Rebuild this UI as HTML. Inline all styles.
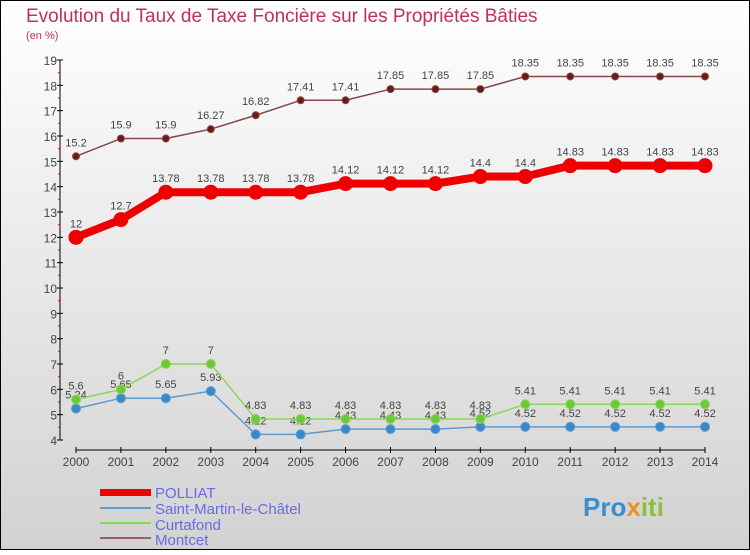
<!DOCTYPE html>
<html><head><meta charset="utf-8"><style>
body{margin:0}
#c{width:750px;height:550px;position:relative;font-family:"Liberation Sans",sans-serif}
</style></head><body>
<div id="c">
<svg id="s" width="750" height="550" xmlns="http://www.w3.org/2000/svg">
<defs><linearGradient id="bg" x1="0" y1="0" x2="0" y2="1"><stop offset="0" stop-color="#ffffff"/><stop offset="1" stop-color="#d2d2d2"/></linearGradient></defs>
<rect x="0.5" y="0.5" width="749" height="549" fill="url(#bg)" stroke="#000"/>
<text x="26" y="22" font-size="19" fill="#c0305a">Evolution du Taux de Taxe Foncière sur les Propriétés Bâties</text>
<text x="26" y="39" font-size="11" fill="#c0305a">(en %)</text>
<g id="axes"></g><g id="series"></g>
<g>
<rect x="100" y="489" width="51" height="7" fill="#e00"/>
<text x="155" y="498" font-size="15" fill="#6a6ae8">POLLIAT</text>
<line x1="100" x2="151" y1="508" y2="508" stroke="#5b9bd0" stroke-width="2"/>
<text x="155" y="514" font-size="15" fill="#6a6ae8">Saint-Martin-le-Châtel</text>
<line x1="100" x2="151" y1="523" y2="523" stroke="#88d858" stroke-width="2"/>
<text x="155" y="530" font-size="15" fill="#6a6ae8">Curtafond</text>
<line x1="100" x2="151" y1="538" y2="538" stroke="#9a6060" stroke-width="2"/>
<text x="155" y="545" font-size="15" fill="#6a6ae8">Montcet</text>
</g>
<text x="583" y="516" font-size="26" font-weight="bold" fill="#3a8fd0">Pro<tspan fill="#f09020">x</tspan><tspan fill="#88c040">iti</tspan></text>
</svg></div>
<script>
const years=[2000,2001,2002,2003,2004,2005,2006,2007,2008,2009,2010,2011,2012,2013,2014];
const yTicks=[4,5,6,7,8,9,10,11,12,13,14,15,16,17,18,19];
const polliat=[12,12.7,13.78,13.78,13.78,13.78,14.12,14.12,14.12,14.4,14.4,14.83,14.83,14.83,14.83];
const saintMartin=[5.24,5.65,5.65,5.93,4.22,4.22,4.43,4.43,4.43,4.52,4.52,4.52,4.52,4.52,4.52];
const curtafond=[5.6,6,7,7,4.83,4.83,4.83,4.83,4.83,4.83,5.41,5.41,5.41,5.41,5.41];
const montcet=[15.2,15.9,15.9,16.27,16.82,17.41,17.41,17.85,17.85,17.85,18.35,18.35,18.35,18.35,18.35];
const NS="http://www.w3.org/2000/svg";
const X=i=>76+i*(705-76)/(years.length-1);
const Y=v=>440-(v-4)*(380/15);
function mk(t,a,p){const e=document.createElementNS(NS,t);for(const k in a)e.setAttribute(k,a[k]);p.appendChild(e);return e;}
const ax=document.getElementById('axes');
const yl=mk('line',{x1:60,x2:60,y1:Y(19),y2:Y(4),stroke:'#000'},ax);


const xl=mk('line',{x1:76,x2:705,y1:450,y2:450,stroke:'#000'},ax);


yTicks.forEach(v=>{
 mk('line',{x1:57,x2:63,y1:Y(v),y2:Y(v),stroke:'#000'},ax);
 if(v<19)mk('line',{x1:58,x2:60,y1:Y(v+0.5),y2:Y(v+0.5),stroke:'#e00'},ax);
 const t=mk('text',{x:57,y:Y(v)+5,'text-anchor':'end','font-size':12,fill:'#444'},ax);
 t.textContent=v;
 
 
});
years.forEach((yr,i)=>{
 mk('line',{x1:X(i),x2:X(i),y1:447,y2:453,stroke:'#000'},ax);
 const t=mk('text',{x:X(i),y:466,'text-anchor':'middle','font-size':12,fill:'#444'},ax);
 t.textContent=yr;
 
 
});
const sg=document.getElementById('series');
function series(name,vals,color,w,r,dot){
 const g=mk('g',{},sg);
 
 
 const pl=mk('polyline',{points:vals.map((v,i)=>X(i)+','+Y(v)).join(' '),fill:'none',stroke:color,'stroke-width':w,'stroke-linejoin':'round'},g);
 
 
 vals.forEach((v,i)=>{
  const c=mk('circle',{cx:X(i),cy:Y(v),r:r,fill:dot,stroke:color,'stroke-width':1},g);
  
  
  const t=mk('text',{x:X(i),y:Y(v)-10,'text-anchor':'middle','font-size':11,fill:'#444'},g);
  t.textContent=v;
  
  
 });
}
series('montcet',montcet,'#8a4848',1.5,3.5,'#6a1a1a');
series('saint-martin',saintMartin,'#5b9bd0',1.5,4.5,'#3a88c8');
series('curtafond',curtafond,'#88d858',1.5,4.5,'#70c838');
series('polliat',polliat,'#ee0000',8,7,'#ee0000');
</script>
</body></html>
